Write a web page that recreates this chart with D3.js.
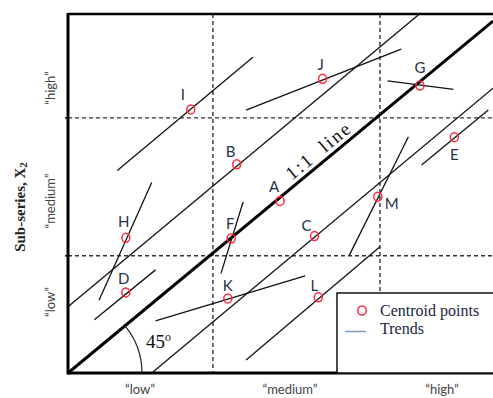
<!DOCTYPE html>
<html>
<head>
<meta charset="utf-8">
<script src="https://cdn.jsdelivr.net/npm/d3@7"></script>
<style>
  html, body { margin: 0; padding: 0; background: #fff; }
  svg { display: block; }
</style>
</head>
<body>
<div id="chart"></div>
<script>
// Class names along each sub-series axis
const classLabels = ["\u201clow\u201d", "\u201cmedium\u201d", "\u201chigh\u201d"];
// Class boundaries on the X1 / X2 value scale
const xBreaks = [34.1, 73.4];
const yBreaks = [33.3, 72.5];

// Centroid points of each cluster
const centroidNames = ["A", "B", "C", "D", "E", "F", "G", "H", "I", "J", "K", "L", "M"];
const centroidX = [49.9, 39.7, 58.0, 13.6, 90.9, 38.4, 82.8, 13.6, 28.9, 59.9, 37.6, 58.9, 72.9];
const centroidY = [48.9, 59.3, 38.9, 22.9, 67.0, 38.2, 81.7, 38.4, 74.9, 83.6, 21.2, 21.5, 50.1];

// Trend segments: [x start, y start, x end, y end]
const trendNames = ["B", "C", "D", "E", "F", "G", "H", "I", "J", "K", "L", "M"];
const trendSegments = [
  [0.0, 18.8, 82.7, 102.0],
  [19.7, 0.0, 100.0, 80.9],
  [6.2, 15.1, 20.6, 29.3],
  [83.2, 59.1, 98.9, 74.7],
  [36.0, 28.3, 41.2, 48.6],
  [75.2, 83.0, 90.7, 80.6],
  [7.3, 20.7, 19.7, 54.1],
  [11.6, 57.5, 43.5, 89.7],
  [41.9, 74.7, 78.4, 92.0],
  [20.6, 14.8, 55.8, 27.6],
  [41.9, 3.7, 73.4, 35.9],
  [66.2, 33.5, 80.1, 67.1]
];

// 1:1 reference line
const identityLine = [[0, 0], [100, 100]];

(function draw() {
  const W = 493, H = 398;
  const mLeft = 68, mBottom = 373, mTop = 14, mRight = 493;

  const x = d3.scaleLinear().domain([0, 100]).range([mLeft, mRight]);
  const y = d3.scaleLinear().domain([0, 102]).range([mBottom, mTop]);

  const svg = d3.select("#chart").append("svg")
    .attr("width", W).attr("height", H);

  const textColor = "#26324a";
  const serif = "'Liberation Serif', 'DejaVu Serif', serif";
  const sans = "Lato, 'Open Sans', sans-serif";

  // Dashed class boundaries
  const dash = svg.append("g")
    .attr("stroke", "#333").attr("stroke-width", 1.4)
    .attr("stroke-dasharray", "4,3").attr("fill", "none");

  const legendTop = 293;
  xBreaks.forEach((v, i) => {
    dash.append("line")
      .attr("x1", x(v)).attr("x2", x(v))
      .attr("y1", mTop).attr("y2", i === 1 ? legendTop : mBottom);
  });
  yBreaks.forEach(v => {
    dash.append("line")
      .attr("x1", mLeft).attr("x2", mRight)
      .attr("y1", y(v)).attr("y2", y(v));
  });

  // Trend segments
  svg.append("g").attr("stroke", "#111").attr("stroke-width", 1.3)
    .selectAll("line").data(trendSegments).join("line")
    .attr("x1", d => x(d[0])).attr("y1", d => y(d[1]))
    .attr("x2", d => x(d[2])).attr("y2", d => y(d[3]));

  // 1:1 line
  svg.append("line")
    .attr("x1", x(identityLine[0][0])).attr("y1", y(identityLine[0][1]))
    .attr("x2", x(identityLine[1][0])).attr("y2", y(identityLine[1][1]))
    .attr("stroke", "#000").attr("stroke-width", 3);

  // Label along the 1:1 line
  const angle = Math.atan2(y(0) - y(100), x(100) - x(0)) * 180 / Math.PI;
  svg.append("text")
    .attr("transform", `translate(${x(59) + 4},${y(59) - 10}) rotate(${-angle})`)
    .attr("text-anchor", "middle")
    .attr("font-family", serif).attr("font-size", 19)
    .attr("fill", "#111")
    .attr("letter-spacing", 2).attr("word-spacing", 6)
    .text("1:1 line");

  // 45 degree arc at origin
  const r = 74;
  const a1 = Math.atan2(y(0) - y(100), x(100) - x(0));
  svg.append("path")
    .attr("d", `M ${x(0) + r} ${y(0)} A ${r} ${r} 0 0 0 ${x(0) + r * Math.cos(a1)} ${y(0) - r * Math.sin(a1)}`)
    .attr("fill", "none").attr("stroke", "#222").attr("stroke-width", 1.2);
  const deg = svg.append("text")
    .attr("x", 146).attr("y", 348)
    .attr("font-family", serif).attr("font-size", 19).attr("fill", "#111");
  deg.append("tspan").text("45");
  deg.append("tspan").attr("dy", -7).attr("font-size", 12).text("o");

  // Frame
  const frame = svg.append("g").attr("stroke", "#000").attr("fill", "none");
  frame.append("line").attr("x1", mLeft).attr("x2", mRight).attr("y1", mTop).attr("y2", mTop).attr("stroke-width", 2.5);
  frame.append("line").attr("x1", mLeft).attr("x2", mRight).attr("y1", mBottom).attr("y2", mBottom).attr("stroke-width", 3);
  frame.append("line").attr("x1", mLeft).attr("x2", mLeft).attr("y1", mTop - 1).attr("y2", mBottom + 1.5).attr("stroke-width", 3);
  yBreaks.forEach(v => {
    frame.append("line").attr("x1", mLeft - 3).attr("x2", mLeft).attr("y1", y(v)).attr("y2", y(v)).attr("stroke-width", 1.5);
  });

  // Legend box
  const lg = svg.append("g");
  lg.append("rect")
    .attr("x", 337).attr("y", legendTop).attr("width", 170).attr("height", mBottom - legendTop)
    .attr("fill", "#fff").attr("stroke", "#111").attr("stroke-width", 1.5);
  lg.append("ellipse").attr("cx", 362).attr("cy", 310.5).attr("rx", 4.2).attr("ry", 4.6)
    .attr("fill", "none").attr("stroke", "#ff2a3a").attr("stroke-width", 1.5);
  lg.append("text").attr("x", 380).attr("y", 316)
    .attr("font-family", serif).attr("font-size", 16).attr("fill", "#1c2540")
    .text("Centroid points");
  lg.append("line").attr("x1", 345).attr("x2", 366).attr("y1", 331.5).attr("y2", 331.5)
    .attr("stroke", "#7a9cc6").attr("stroke-width", 1.5);
  lg.append("text").attr("x", 380).attr("y", 334)
    .attr("font-family", serif).attr("font-size", 16).attr("fill", "#1c2540")
    .text("Trends");

  // Centroid markers and names
  const centroids = centroidNames.map((n, i) => ({ name: n, x: centroidX[i], y: centroidY[i] }));
  const placement = {
    A: [-6, -15], B: [-6, -13], C: [-8, -11], D: [-2, -14], E: [0, 17], F: [-1, -16],
    G: [0, -18], H: [-2, -17], I: [-8, -15], J: [-2, -15], K: [0, -13], L: [-4, -12], M: [14, 6]
  };
  const cg = svg.append("g");
  cg.selectAll("ellipse").data(centroids).join("ellipse")
    .attr("cx", d => x(d.x)).attr("cy", d => y(d.y))
    .attr("rx", 4).attr("ry", 4.5)
    .attr("fill", "none").attr("stroke", "#ff2a3a").attr("stroke-width", 1.5);
  cg.selectAll("text").data(centroids).join("text")
    .attr("x", d => x(d.x) + placement[d.name][0])
    .attr("y", d => y(d.y) + placement[d.name][1])
    .attr("text-anchor", "middle").attr("dominant-baseline", "central")
    .attr("font-family", sans).attr("font-size", 15).attr("fill", textColor)
    .text(d => d.name);

  // Class labels under the x axis
  const xCenters = [140, 290, 442];
  svg.append("g").selectAll("text").data(classLabels).join("text")
    .attr("x", (d, i) => xCenters[i]).attr("y", 394)
    .attr("text-anchor", "middle")
    .attr("font-family", sans).attr("font-size", 13).attr("fill", "#444")
    .text(d => d);

  // Class labels beside the y axis
  const yCenters = [302, 201, 88];
  svg.append("g").selectAll("text").data(classLabels).join("text")
    .attr("transform", (d, i) => `translate(50,${yCenters[i]}) rotate(-90)`)
    .attr("text-anchor", "middle").attr("dominant-baseline", "central")
    .attr("font-family", sans).attr("font-size", 13).attr("fill", "#444")
    .text(d => d);

  // Y axis title
  const yt = svg.append("text")
    .attr("transform", "translate(20,207) rotate(-90)")
    .attr("text-anchor", "middle").attr("dominant-baseline", "central")
    .attr("font-family", serif).attr("font-size", 15).attr("font-weight", "bold")
    .attr("fill", "#222");
  yt.append("tspan").text("Sub-series, X");
  yt.append("tspan").attr("font-size", 11).attr("dy", 3).text("2");
})();
</script>
</body>
</html>
